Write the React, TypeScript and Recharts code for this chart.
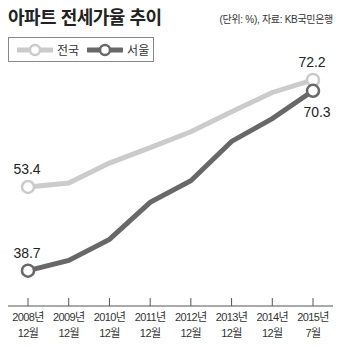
import React from "react"
import { LineChart, Line, XAxis, YAxis, Legend } from "recharts"

const years = ["2008년", "2009년", "2010년", "2011년", "2012년", "2013년", "2014년", "2015년"]
const months = ["12월", "12월", "12월", "12월", "12월", "12월", "12월", "7월"]
const nationwide = [53.4, 54.1, 57.6, 60.3, 63.1, 66.6, 70.0, 72.2]
const seoul = [38.7, 40.5, 44.2, 50.7, 54.5, 61.4, 65.4, 70.3]

const seriesNames = { nationwide: "전국", seoul: "서울" }

const data = years.map((year, i) => ({
  year,
  month: months[i],
  nationwide: nationwide[i],
  seoul: seoul[i],
}))

const FONT = "'Liberation Sans', Arial, 'Noto Sans CJK KR', sans-serif"
const LIGHT = "#cbcbcb"
const DARK = "#686868"

const lastIndex = data.length - 1

const EndDot = ({ cx, cy, index, stroke }: any) => {
  if (index !== 0 && index !== lastIndex) return null
  return <circle cx={cx} cy={cy} r={6} fill="#fff" stroke={stroke} strokeWidth={2.5} />
}

const makeLabel = (lastBelow: boolean) => ({ x, y, value, index }: any) => {
  if (index !== 0 && index !== lastIndex) return null
  const below = lastBelow && index === lastIndex
  return (
    <text
      x={index === lastIndex && below ? x + 4 : x - 1}
      y={below ? y + 26 : y - 13}
      textAnchor="middle"
      fontSize={14}
      fontFamily={FONT}
      fill="#222"
    >
      {value}
    </text>
  )
}

const YearTick = ({ x, y, payload, index }: any) => (
  <g>
    <line x1={x} y1={y - 8} x2={x} y2={y} stroke="#555" strokeWidth={1} />
    <text x={x} y={y + 15} textAnchor="middle" fontSize={11} fontFamily={FONT} fill="#333" letterSpacing={-0.6}>
      {payload.value}
    </text>
    <text x={x} y={y + 31} textAnchor="middle" fontSize={11} fontFamily={FONT} fill="#333" letterSpacing={-0.6}>
      {months[index]}
    </text>
  </g>
)

const LegendSymbol = ({ color }: { color: string }) => (
  <svg width={36} height={14} style={{ display: "block" }}>
    <line x1={1} y1={7} x2={35} y2={7} stroke={color} strokeWidth={5} strokeLinecap="round" />
    <circle cx={18} cy={7} r={5} fill="#fff" stroke={color} strokeWidth={2.5} />
  </svg>
)

const LegendBox = () => (
  <div
    style={{
      width: 146,
      height: 25,
      border: "1px solid #888",
      display: "flex",
      alignItems: "center",
      paddingLeft: 8,
      boxSizing: "border-box",
      fontFamily: FONT,
      fontSize: 12,
      color: "#333",
    }}
  >
    <LegendSymbol color={LIGHT} />
    <span style={{ marginLeft: 4, marginRight: 8 }}>{seriesNames.nationwide}</span>
    <LegendSymbol color={DARK} />
    <span style={{ marginLeft: 4 }}>{seriesNames.seoul}</span>
  </div>
)

export default function App() {
  return (
    <div style={{ position: "absolute", left: 0, top: 0, width: 350, height: 346, background: "#fff" }}>
      <div
        style={{
          position: "absolute",
          left: 8,
          top: 3,
          fontFamily: FONT,
          fontSize: 18,
          fontWeight: "bold",
          color: "#222",
          letterSpacing: -0.5,
        }}
      >
        아파트 전세가율 추이
      </div>
      <div
        style={{
          position: "absolute",
          right: 17,
          top: 11,
          fontFamily: FONT,
          fontSize: 10,
          color: "#333",
          letterSpacing: -0.3,
        }}
      >
        (단위: %), 자료: KB국민은행
      </div>
      <LineChart width={350} height={346} data={data} margin={{ top: 64, right: 17, bottom: 0, left: 8 }}>
        <XAxis
          dataKey="year"
          height={40}
          interval={0}
          padding={{ left: 20, right: 20 }}
          axisLine={{ stroke: "#555", strokeWidth: 1 }}
          tickLine={false}
          tickSize={0}
          tickMargin={0}
          tick={<YearTick />}
        />
        <YAxis hide domain={[32.5, 75]} />
        <Legend
          layout="vertical"
          align="center"
          verticalAlign="middle"
          wrapperStyle={{ position: "absolute", left: 8, top: 37, width: 146 }}
          content={() => <LegendBox />}
        />
        <Line
          dataKey="nationwide"
          name={seriesNames.nationwide}
          stroke={LIGHT}
          strokeWidth={5}
          dot={<EndDot />}
          activeDot={false}
          label={makeLabel(false)}
          isAnimationActive={false}
        />
        <Line
          dataKey="seoul"
          name={seriesNames.seoul}
          stroke={DARK}
          strokeWidth={5}
          dot={<EndDot />}
          activeDot={false}
          label={makeLabel(true)}
          isAnimationActive={false}
        />
      </LineChart>
    </div>
  )
}
